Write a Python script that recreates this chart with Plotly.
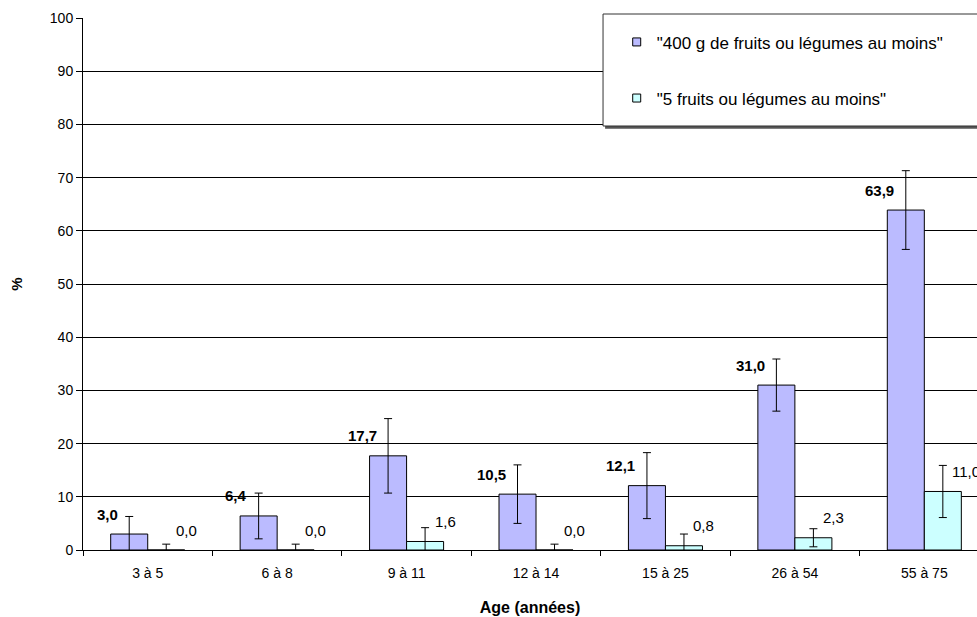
import plotly.graph_objects as go

# age groups and shares (%)
ages = ["3 à 5", "6 à 8", "9 à 11", "12 à 14", "15 à 25", "26 à 54", "55 à 75"]
g400 = [3.0, 6.4, 17.7, 10.5, 12.1, 31.0, 63.9]
g400_err = [3.3, 4.3, 7.0, 5.5, 6.2, 4.9, 7.4]
fruits5 = [0.0, 0.0, 1.6, 0.0, 0.8, 2.3, 11.0]
fruits5_err = [1.1, 1.1, 2.6, 1.1, 2.2, 1.7, 4.9]

name400 = '"400 g de fruits ou légumes au moins"'
name5 = '"5 fruits ou légumes au moins"'
col400 = "#BBBBFF"
col5 = "#CCFFFF"

FONT = "Liberation Sans, Arial, sans-serif"


def fmt(v):
    return f"{v:.1f}".replace(".", ",")


fig = go.Figure()
fig.add_trace(go.Bar(
    x=ages, y=g400, name=name400, showlegend=False,
    marker=dict(color=col400, line=dict(color="black", width=1)),
    error_y=dict(type="data", array=g400_err, color="black", thickness=1, width=4),
))
fig.add_trace(go.Bar(
    x=ages, y=fruits5, name=name5, showlegend=False,
    marker=dict(color=col5, line=dict(color="black", width=1)),
    error_y=dict(type="data", array=fruits5_err, color="black", thickness=1, width=4),
))

# legend entries with small square swatches
for nm, col, grp in [(name400, col400, "a"), (name5, col5, "b")]:
    fig.add_trace(go.Scatter(
        x=[None], y=[None], mode="markers", name=nm, legendgroup=grp,
        marker=dict(symbol="square", size=8, color=col, line=dict(color="black", width=1)),
    ))

annotations = []
for i, v in enumerate(g400):
    annotations.append(dict(
        x=i, y=v, xref="x", yref="y", text=fmt(v), showarrow=False,
        xanchor="right", yanchor="middle", xshift=-28, yshift=20,
        font=dict(family=FONT, size=15, color="black", weight="bold"),
    ))
for i, v in enumerate(fruits5):
    annotations.append(dict(
        x=i, y=v, xref="x", yref="y", text=fmt(v), showarrow=False,
        xanchor="left", yanchor="middle", xshift=26, yshift=20,
        font=dict(family=FONT, size=15, color="black"),
    ))

fig.update_layout(
    width=977, height=617,
    margin=dict(l=83, r=0, t=18, b=67),
    paper_bgcolor="white", plot_bgcolor="white",
    font=dict(family=FONT, size=14, color="black"),
    barmode="group", bargap=0.428, bargroupgap=0,
    annotations=annotations,
    shapes=[
        dict(type="rect", xref="paper", yref="paper", x0=0.584, x1=1.3, y0=0.792, y1=1.003,
             fillcolor="#555555", line=dict(width=0), layer="above"),
        dict(type="rect", xref="paper", yref="paper", x0=0.5817, x1=1.3, y0=0.797, y1=1.0075,
             fillcolor="white", line=dict(color="#333333", width=1), layer="above"),
    ],
    legend=dict(
        x=0.597, y=0.988, xanchor="left", yanchor="top",
        bgcolor="rgba(0,0,0,0)", borderwidth=0,
        font=dict(family=FONT, size=17, color="black"),
        tracegroupgap=31, itemclick=False,
    ),
)

fig.update_xaxes(
    range=[-0.5, 6.407],
    showline=True, linecolor="black", linewidth=1,
    ticks="outside", tickson="boundaries", ticklen=5, tickcolor="black",
    ticklabelstandoff=10,
    showgrid=False,
    title=dict(text="Age (années)", font=dict(family=FONT, size=16, weight="bold"), standoff=22),
    tickfont=dict(size=14),
)
fig.update_yaxes(
    range=[0, 100], dtick=10,
    showline=True, linecolor="black", linewidth=1,
    ticks="outside", ticklen=6, tickcolor="black",
    showgrid=True, gridcolor="black", gridwidth=1,
    zeroline=False,
    title=dict(text="%", font=dict(family=FONT, size=15, weight="bold"), standoff=23),
    tickfont=dict(size=14),
)

# drop the page's default body margin so the 977x617 figure fills the window
fig.write_html(
    "out.html",
    config={"displayModeBar": False},
    post_script="document.body.style.margin='0';document.body.style.overflow='hidden';",
)
